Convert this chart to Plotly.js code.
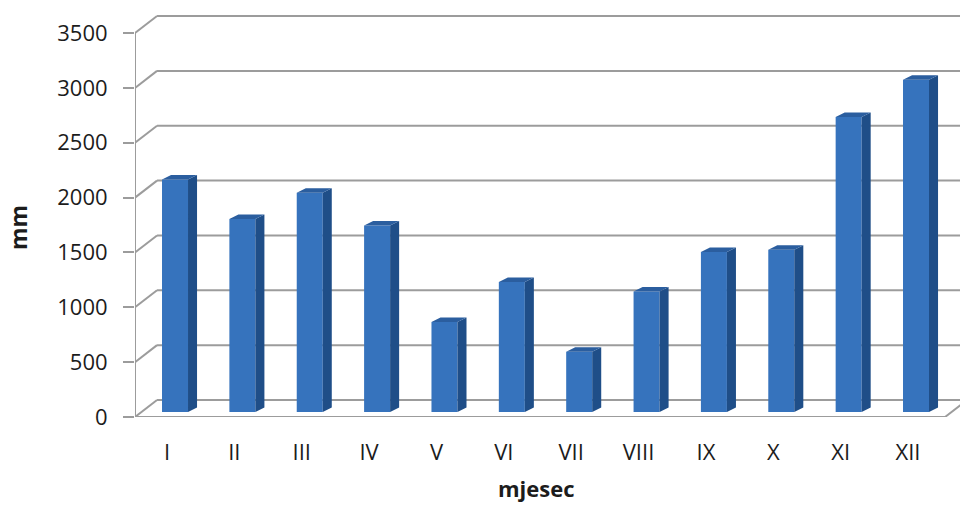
<!DOCTYPE html>
<html>
<head>
<meta charset="utf-8">
<script src="https://cdn.plot.ly/plotly-3.0.1.min.js"></script>
<style>html,body{margin:0;padding:0;background:#fff;}#chart{width:960px;height:506px;}</style>
</head>
<body>
<div id="chart"></div>
<script>
// ---- data ----
const months = ['I','II','III','IV','V','VI','VII','VIII','IX','X','XI','XII'];
const rainfall = [2120, 1760, 2000, 1700, 820, 1185, 550, 1100, 1460, 1480, 2690, 3030];
const yTickValues = [0, 500, 1000, 1500, 2000, 2500, 3000, 3500];
const xTitle = 'mjesec';
const yTitle = 'mm';

// ---- 3D look parameters (in axis units) ----
const xMin = -0.475, xMax = 11.772;
const yMin = 0, yMax = 3710;
const wallDx = 0.327, wallDy = 155;     // depth of the back wall
const barShift = 0.119, barWidth = 0.386, barBase = 45;
const sideDx = 0.134, sideDy = 41;      // depth of each column
const floorRight = 11.55;

const gridColor = '#9c9c9c';
const textColor = '#1c1c1c';
const fam = '"Open Sans", sans-serif';
const xs = months.map((m, i) => i);

// gridlines on the back wall + left wall diagonals (drawn below traces)
const shapes = [];
yTickValues.forEach(v => {
  shapes.push({type:'line', xref:'x', yref:'y', layer:'below',
    x0: xMin + wallDx, y0: v + wallDy, x1: xMax + 1, y1: v + wallDy,
    line:{color:gridColor, width:2}});
  shapes.push({type:'line', xref:'x', yref:'y', layer:'below',
    x0: xMin, y0: v, x1: xMin + wallDx, y1: v + wallDy,
    line:{color:gridColor, width:2}});
});
// floor front edge and right edge
shapes.push({type:'line', xref:'x', yref:'y', layer:'below',
  x0: xMin, y0: 0, x1: floorRight, y1: 0, line:{color:gridColor, width:2}});
shapes.push({type:'line', xref:'x', yref:'y', layer:'below',
  x0: floorRight, y0: 0, x1: floorRight + wallDx, y1: wallDy, line:{color:gridColor, width:2}});
// vertical value axis line
shapes.push({type:'line', xref:'x', yref:'y', layer:'below',
  x0: xMin, y0: 0, x1: xMin, y1: yTickValues[yTickValues.length-1], line:{color:gridColor, width:2}});

// side and top faces of the columns
const sideX = [], sideY = [], topX = [], topY = [];
rainfall.forEach((v, i) => {
  const xl = i + barShift - barWidth/2, xr = i + barShift + barWidth/2;
  const top = barBase + v;
  sideX.push(xr, xr + sideDx, xr + sideDx, xr, xr, null);
  sideY.push(barBase, barBase + sideDy, top + sideDy, top, barBase, null);
  topX.push(xl, xl + sideDx, xr + sideDx, xr, xl, null);
  topY.push(top, top + sideDy, top + sideDy, top, top, null);
});

const traces = [
  {type:'bar', x: xs.map(i => i + barShift), y: rainfall, base: barBase,
   width: barWidth, marker:{color:'#3673bd', line:{width:0}}, hoverinfo:'skip', showlegend:false},
  {type:'scatter', mode:'lines', x: sideX, y: sideY, fill:'toself', fillcolor:'#1f4e88',
   line:{width:0, color:'#1f4e88'}, hoverinfo:'skip', showlegend:false},
  {type:'scatter', mode:'lines', x: topX, y: topY, fill:'toself', fillcolor:'#2b5e9f',
   line:{width:0, color:'#2b5e9f'}, hoverinfo:'skip', showlegend:false}
];

const layout = {
  width: 960, height: 506,
  margin: {l:135, r:0, t:10, b:89},
  paper_bgcolor:'#fff', plot_bgcolor:'#fff',
  font: {family:fam, size:22, color:textColor},
  showlegend:false,
  shapes: shapes,
  xaxis: {
    range:[xMin, xMax], tickmode:'array', tickvals: xs, ticktext: months,
    showgrid:false, zeroline:false, showline:false, ticks:'', ticklabelstandoff: 20,
    tickfont:{family:fam, size:22, color:textColor}
  },
  yaxis: {
    range:[yMin, yMax], tickmode:'array', tickvals: yTickValues,
    showgrid:false, zeroline:false, showline:false,
    ticks:'outside', ticklen:11, tickwidth:2, tickcolor:gridColor, ticklabelstandoff: 11,
    tickfont:{family:fam, size:22, color:textColor}
  },
  annotations: [
    {text:'<b>' + xTitle + '</b>', xref:'paper', yref:'paper', x:(536-135)/825, y:(506-488-89)/407,
     xanchor:'center', yanchor:'middle', borderpad:0, showarrow:false, font:{family:fam, size:22, color:textColor}},
    {text:'<b>' + yTitle + '</b>', xref:'paper', yref:'paper', x:(18-135)/825, y:(417-228)/407,
     xanchor:'center', yanchor:'middle', textangle:-90, showarrow:false, font:{family:fam, size:23, color:textColor}}
  ]
};

Plotly.newPlot('chart', traces, layout, {displayModeBar:false, staticPlot:true});
</script>
</body>
</html>
